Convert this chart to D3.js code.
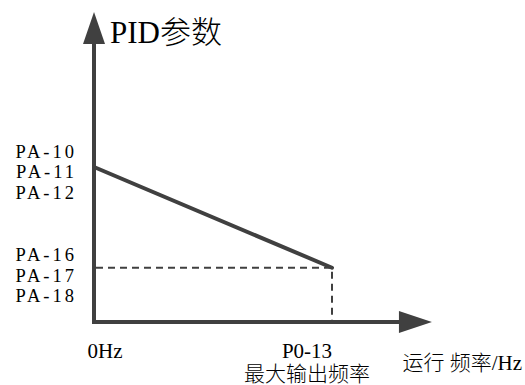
<!DOCTYPE html>
<html><head><meta charset="utf-8">
<script src="https://cdn.jsdelivr.net/npm/d3@7"></script>
<style>html,body{margin:0;padding:0;background:#fff}</style>
</head><body>
<script>
// Data
const xPoints = [0, 100];            // 0Hz, P0-13 max frequency (%)
const pidValues = [100, 35];         // PID parameter at 0Hz and at max frequency
const highLabels = ["PA-10", "PA-11", "PA-12"];
const lowLabels = ["PA-16", "PA-17", "PA-18"];
const xTickLabels = ["0Hz", "P0-13"];
const xTickSub = ["", "最大输出频率"];
const yTitle = "PID参数";
const xTitle = "运行 频率/Hz";

const W = 525, H = 385;
const col = "#404040";
const serif = "Liberation Serif, Times New Roman, Noto Sans CJK SC, serif";

const svg = d3.select("body").append("svg").attr("width", W).attr("height", H);
const x = d3.scaleLinear().domain([0, 100]).range([94, 332]);
const y = d3.scaleLinear().domain([0, 100]).range([322, 167]);
const xMax = 142, yMax = 200;

// axes
svg.append("line").attr("x1", x(0)).attr("x2", x(xMax) - 32).attr("y1", y(0)).attr("y2", y(0))
  .attr("stroke", col).attr("stroke-width", 4);
svg.append("line").attr("x1", x(0)).attr("x2", x(0)).attr("y1", y(0) + 2).attr("y2", y(yMax) + 31)
  .attr("stroke", col).attr("stroke-width", 4);
svg.append("polygon").attr("fill", col)
  .attr("points", [[x(xMax), y(0)], [x(xMax) - 33, y(0) - 11], [x(xMax) - 33, y(0) + 11]].join(" "));
svg.append("polygon").attr("fill", col)
  .attr("points", [[x(0), y(yMax)], [x(0) - 11, y(yMax) + 32], [x(0) + 11, y(yMax) + 32]].join(" "));

// dashed guides
svg.append("path").attr("fill", "none").attr("stroke", col).attr("stroke-width", 2)
  .attr("stroke-dasharray", "7,5")
  .attr("d", d3.line()([[x(0) + 2, y(pidValues[1])], [x(xPoints[1]), y(pidValues[1])], [x(xPoints[1]), y(0)]]));

// main line
svg.append("path").attr("fill", "none").attr("stroke", col).attr("stroke-width", 4)
  .attr("stroke-linecap", "round")
  .attr("d", d3.line().x((d, i) => x(xPoints[i])).y(d => y(d))(pidValues));

// y labels
function labelGroup(labels, v, off) {
  labels.forEach((t, i) => {
    svg.append("text").attr("x", 77).attr("y", y(v) + off + (i - 1) * 20.5)
      .attr("text-anchor", "end").attr("font-family", serif).attr("font-size", 18.5)
      .attr("letter-spacing", 3)
      .attr("fill", "#000").text(t);
  });
}
labelGroup(highLabels, pidValues[0], 11);
labelGroup(lowLabels, pidValues[1], 14);

// x tick labels
xTickLabels.forEach((t, i) => {
  svg.append("text").attr("x", i === 0 ? 105 : x(xPoints[i]) - 25).attr("y", 358)
    .attr("text-anchor", "middle").attr("font-family", serif).attr("font-size", 21)
    .attr("fill", "#000").text(t);
  if (xTickSub[i]) svg.append("text").attr("x", x(xPoints[i]) - 25).attr("y", 381)
    .attr("text-anchor", "middle").attr("font-family", serif).attr("font-size", 21)
    .attr("font-weight", 300)
    .attr("fill", "#000").text(xTickSub[i]);
});

// titles
svg.append("text").attr("x", 110).attr("y", 43).attr("font-family", serif).attr("font-size", 31)
  .attr("font-weight", 300).attr("fill", "#000").text(yTitle);
svg.append("text").attr("x", 522).attr("y", 370).attr("text-anchor", "end")
  .attr("font-family", serif).attr("font-size", 21).attr("font-weight", 300)
  .attr("fill", "#000").text(xTitle);
</script>
</body></html>
